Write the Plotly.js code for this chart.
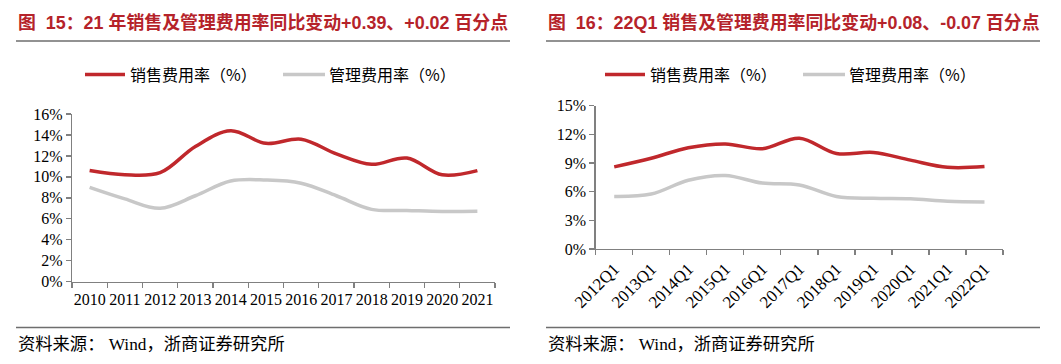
<!DOCTYPE html>
<html>
<head>
<meta charset="utf-8">
<script src="https://cdn.plot.ly/plotly-3.0.1.min.js"></script>
<style>
html,body{margin:0;padding:0;background:#fff;overflow:hidden;}
#chart{width:1061px;height:364px;}
</style>
</head>
<body>
<div id="chart"></div>
<script>
// ---- Data ----
var yearsAnnual = ['2010','2011','2012','2013','2014','2015','2016','2017','2018','2019','2020','2021'];
var salesRateAnnual = [10.6, 10.2, 10.4, 12.9, 14.4, 13.2, 13.6, 12.2, 11.2, 11.8, 10.2, 10.6];
var mgmtRateAnnual  = [9.0, 7.9, 7.0, 8.2, 9.6, 9.7, 9.4, 8.2, 6.9, 6.8, 6.7, 6.72];

var quartersQ1 = ['2012Q1','2013Q1','2014Q1','2015Q1','2016Q1','2017Q1','2018Q1','2019Q1','2020Q1','2021Q1','2022Q1'];
var salesRateQ1 = [8.6, 9.5, 10.6, 11.0, 10.5, 11.6, 10.0, 10.1, 9.3, 8.55, 8.63];
var mgmtRateQ1  = [5.5, 5.75, 7.2, 7.7, 6.9, 6.7, 5.5, 5.3, 5.25, 5.0, 4.93];

var seriesNames = ['销售费用率（%）', '管理费用率（%）'];
var titleLeft = '图  15：21 年销售及管理费用率同比变动+0.39、+0.02 百分点';
var titleRight = '图  16：22Q1 销售及管理费用率同比变动+0.08、-0.07 百分点';
var sourceText = '资料来源： Wind，浙商证券研究所';

// ---- Styles ----
var W = 1061, H = 364;
var RED = '#c0282c', GRAY = '#c8c8c8', AXIS = '#808080';
var serif = 'Liberation Serif, Times New Roman, Noto Sans CJK SC, serif';
var cjk = 'Noto Sans CJK SC, sans-serif';
function px(x){ return x / W; }
function py(y){ return 1 - y / H; }

var colors = [RED, GRAY];
var traces = [
  {x: yearsAnnual, y: salesRateAnnual, name: seriesNames[0], xaxis: 'x', yaxis: 'y'},
  {x: yearsAnnual, y: mgmtRateAnnual, name: seriesNames[1], xaxis: 'x', yaxis: 'y'},
  {x: quartersQ1, y: salesRateQ1, name: seriesNames[0], xaxis: 'x2', yaxis: 'y2'},
  {x: quartersQ1, y: mgmtRateQ1, name: seriesNames[1], xaxis: 'x2', yaxis: 'y2'}
].map(function(t, i){
  t.type = 'scatter'; t.mode = 'lines'; t.hoverinfo = 'skip';
  t.line = {color: colors[i % 2], width: 3.5, shape: 'spline', smoothing: 1};
  return t;
});

function xAxis(domain, anchor, angle, n, fsize, standoff){
  return {domain: domain, anchor: anchor, type: 'category', range: [-0.5, n - 0.5],
    showgrid: false, zeroline: false,
    automargin: false, showline: true, linecolor: AXIS, linewidth: 1.3,
    ticks: 'outside', tickson: 'boundaries', ticklen: 5, tickcolor: AXIS, tickwidth: 1.3,
    ticklabelstandoff: standoff,
    tickangle: angle, tickfont: {family: serif, size: fsize, color: '#000'}, fixedrange: true};
}
function yAxis(domain, anchor, range, dtick){
  return {domain: domain, anchor: anchor, range: range, dtick: dtick, tick0: 0, ticksuffix: '%',
    automargin: false, showgrid: false, zeroline: false, showline: true, linecolor: AXIS, linewidth: 1.3,
    ticks: 'outside', ticklen: 5, tickcolor: AXIS, tickwidth: 1.3,
    tickfont: {family: serif, size: 16, color: '#000'}, fixedrange: true};
}

var titleFont = {family: 'Liberation Sans, Noto Sans CJK SC, sans-serif', size: 17.9, color: '#b5232a'};
var legFont = {family: cjk, size: 16, color: '#000'};
var srcFont = {family: serif, size: 17.3, color: '#000'};

function ann(text, x, y, font){
  return {text: text, xref: 'paper', yref: 'paper', x: px(x), y: py(y), xanchor: 'left', yanchor: 'middle',
    showarrow: false, font: font};
}
function hline(x0, x1, y, color, width){
  return {type: 'line', xref: 'paper', yref: 'paper', x0: px(x0), x1: px(x1), y0: py(y), y1: py(y),
    line: {color: color, width: width}};
}

var layout = {
  width: W, height: H,
  margin: {l: 0, r: 0, t: 0, b: 0, pad: 0},
  paper_bgcolor: '#fff', plot_bgcolor: '#fff',
  showlegend: false,
  xaxis: xAxis([px(72), px(495)], 'y', 0, yearsAnnual.length, 16, 3),
  yaxis: yAxis([py(281.7), py(114)], 'x', [0, 16], 2),
  xaxis2: xAxis([px(595.7), px(1003)], 'y2', -45, quartersQ1.length, 17, 2),
  yaxis2: yAxis([py(249), py(105.7)], 'x2', [0, 15], 3),
  annotations: [
    ann('<b>' + titleLeft + '</b>', 16, 22, titleFont),
    ann('<b>' + titleRight + '</b>', 546, 22, titleFont),
    ann(seriesNames[0], 128, 74, legFont),
    ann(seriesNames[1], 327, 74, legFont),
    ann(seriesNames[0], 648, 74, legFont),
    ann(seriesNames[1], 847, 74, legFont),
    ann(sourceText, 16, 344, srcFont),
    ann(sourceText, 546, 344, srcFont)
  ],
  shapes: [
    hline(16, 510, 41, '#6e6e6e', 1.5),
    hline(546, 1040, 41, '#6e6e6e', 1.5),
    hline(16, 510, 327.5, '#6e6e6e', 1.5),
    hline(546, 1040, 327.5, '#6e6e6e', 1.5),
    hline(85, 125, 74.5, RED, 3.5),
    hline(283, 325, 74.5, GRAY, 3.5),
    hline(605, 645, 74.5, RED, 3.5),
    hline(803, 845, 74.5, GRAY, 3.5)
  ]
};

Plotly.newPlot('chart', traces, layout, {staticPlot: true, displayModeBar: false});
</script>
</body>
</html>
